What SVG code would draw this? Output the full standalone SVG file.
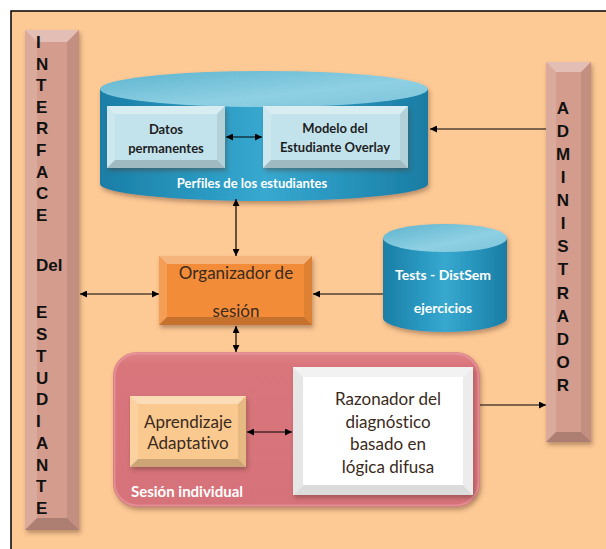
<svg xmlns="http://www.w3.org/2000/svg" width="606" height="549" viewBox="0 0 606 549">
  <style>
    text { font-variant-ligatures: none; }
    .vt { font-family: "Liberation Sans", Arial, sans-serif; font-weight: bold; font-size: 17px; fill: #111; }
    .lb { font-family: Lato, "Open Sans", sans-serif; font-weight: bold; font-size: 13px; fill: #1e1e1e; text-anchor: middle; }
    .wl { font-family: Lato, "Open Sans", sans-serif; font-weight: bold; fill: #ffffff; }
    .rg { font-family: Lato, "Open Sans", sans-serif; font-size: 17px; fill: #3a2a20; text-anchor: middle; }
    .bt { fill: #ffffff; fill-opacity: 0.35; }
    .bl { fill: #ffffff; fill-opacity: 0.15; }
    .br { fill: #000000; fill-opacity: 0.08; }
    .bb { fill: #000000; fill-opacity: 0.18; }
    .con line { stroke: #000; stroke-width: 1.2; }
  </style>
  <defs>
    <filter id="shadow" x="-10%" y="-10%" width="125%" height="130%">
      <feDropShadow dx="1.5" dy="3" stdDeviation="2" flood-color="#5a3a20" flood-opacity="0.4"/>
    </filter>
    <linearGradient id="cylBody" x1="0" y1="0" x2="1" y2="0">
      <stop offset="0" stop-color="#1a7ea6"/>
      <stop offset="0.35" stop-color="#2c9cc4"/>
      <stop offset="0.5" stop-color="#38a8cf"/>
      <stop offset="0.7" stop-color="#2a98c0"/>
      <stop offset="1" stop-color="#1a7ca3"/>
    </linearGradient>
    <linearGradient id="cylTop" x1="0" y1="0" x2="1" y2="1">
      <stop offset="0" stop-color="#5cb4cf"/>
      <stop offset="0.6" stop-color="#8fd0e3"/>
      <stop offset="1" stop-color="#7cc3d9"/>
    </linearGradient>
    <linearGradient id="session" x1="0" y1="0" x2="0" y2="1">
      <stop offset="0" stop-color="#df858a"/>
      <stop offset="0.08" stop-color="#d9767b"/>
      <stop offset="1" stop-color="#d6727a"/>
    </linearGradient>
    <marker id="ah" viewBox="0 0 10 10" refX="10" refY="5" markerWidth="7" markerHeight="7" markerUnits="userSpaceOnUse" orient="auto-start-reverse">
      <path d="M0,0 L10,5 L0,10 z" fill="#000"/>
    </marker>
  </defs>

  <!-- page background and frame -->
  <rect x="0" y="0" width="606" height="549" fill="#ffffff"/>
  <rect x="11" y="11" width="620" height="560" fill="#fdc995" stroke="#000" stroke-width="1.5"/>

  <!-- left vertical bar: student interface -->
  <g id="interfaz">
    <g filter="url(#shadow)">
      <rect x="25" y="30" width="54" height="500" fill="#d49c8c"/>
      <polygon class="bt" points="25,30 79,30 67,42 37,42"/>
      <polygon class="bl" points="25,30 37,42 37,518 25,530"/>
      <polygon class="br" points="79,30 79,530 67,518 67,42"/>
      <polygon class="bb" points="25,530 37,518 67,518 79,530"/>
    </g>
    <text class="vt" x="36" y="48">I</text>
    <text class="vt" x="36" y="70">N</text>
    <text class="vt" x="36" y="91">T</text>
    <text class="vt" x="36" y="113">E</text>
    <text class="vt" x="36" y="134">R</text>
    <text class="vt" x="36" y="156">F</text>
    <text class="vt" x="36" y="178">A</text>
    <text class="vt" x="36" y="199">C</text>
    <text class="vt" x="36" y="221">E</text>
    <text class="vt" x="36" y="271">Del</text>
    <text class="vt" x="36" y="318">E</text>
    <text class="vt" x="36" y="340">S</text>
    <text class="vt" x="36" y="362">T</text>
    <text class="vt" x="36" y="384">U</text>
    <text class="vt" x="36" y="405">D</text>
    <text class="vt" x="36" y="427">I</text>
    <text class="vt" x="36" y="449">A</text>
    <text class="vt" x="36" y="471">N</text>
    <text class="vt" x="36" y="492">T</text>
    <text class="vt" x="36" y="514">E</text>
  </g>

  <!-- right vertical bar: administrator -->
  <g id="administrador">
    <g filter="url(#shadow)">
      <rect x="546" y="62" width="45" height="380" fill="#d49c8c"/>
      <polygon class="bt" points="546,62 591,62 581,72 556,72"/>
      <polygon class="bl" points="546,62 556,72 556,432 546,442"/>
      <polygon class="br" points="591,62 591,442 581,432 581,72"/>
      <polygon class="bb" points="546,442 556,432 581,432 591,442"/>
    </g>
    <g text-anchor="middle">
      <text class="vt" x="563" y="114">A</text>
      <text class="vt" x="563" y="137">D</text>
      <text class="vt" x="563" y="160">M</text>
      <text class="vt" x="563" y="183">I</text>
      <text class="vt" x="563" y="206">N</text>
      <text class="vt" x="563" y="229">I</text>
      <text class="vt" x="563" y="252">S</text>
      <text class="vt" x="563" y="275">T</text>
      <text class="vt" x="563" y="299">R</text>
      <text class="vt" x="563" y="322">A</text>
      <text class="vt" x="563" y="345">D</text>
      <text class="vt" x="563" y="368">O</text>
      <text class="vt" x="563" y="391">R</text>
    </g>
  </g>

  <!-- student profiles store -->
  <g id="perfiles">
    <g filter="url(#shadow)">
      <path d="M100,89 L100,184 A164,17 0 0 0 428,184 L428,89 Z" fill="url(#cylBody)"/>
      <ellipse cx="264" cy="89" rx="164" ry="18" fill="url(#cylTop)"/>
    </g>
    <text class="wl" x="252" y="188" font-size="13" text-anchor="middle">Perfiles de los estudiantes</text>
  </g>

  <g id="datos">
    <g filter="url(#shadow)">
      <rect x="107" y="106" width="118" height="62" fill="#c3e3ec"/>
      <polygon class="bt" points="107,106 225,106 217,114 115,114"/>
      <polygon class="bl" points="107,106 115,114 115,160 107,168"/>
      <polygon class="br" points="225,106 225,168 217,160 217,114"/>
      <polygon class="bb" points="107,168 115,160 217,160 225,168"/>
    </g>
    <text class="lb" x="166" y="134">Datos</text>
    <text class="lb" x="166" y="153">permanentes</text>
  </g>

  <g id="modelo">
    <g filter="url(#shadow)">
      <rect x="263" y="106" width="145" height="62" fill="#c3e3ec"/>
      <polygon class="bt" points="263,106 408,106 400,114 271,114"/>
      <polygon class="bl" points="263,106 271,114 271,160 263,168"/>
      <polygon class="br" points="408,106 408,168 400,160 400,114"/>
      <polygon class="bb" points="263,168 271,160 400,160 408,168"/>
    </g>
    <text class="lb" x="335" y="133">Modelo del</text>
    <text class="lb" x="335" y="152">Estudiante Overlay</text>
  </g>

  <!-- session organizer -->
  <g id="organizador">
    <g filter="url(#shadow)">
      <rect x="159" y="256" width="153" height="69" fill="#f28c38"/>
      <polygon class="bt" points="159,256 312,256 304,264 167,264"/>
      <polygon class="bl" points="159,256 167,264 167,317 159,325"/>
      <polygon class="br" points="312,256 312,325 304,317 304,264"/>
      <polygon class="bb" points="159,325 167,317 304,317 312,325"/>
    </g>
    <text class="rg" x="236" y="279" font-size="18">Organizador de</text>
    <text class="rg" x="236" y="317" font-size="18">sesión</text>
  </g>

  <!-- exercises store -->
  <g id="tests">
    <g filter="url(#shadow)">
      <path d="M383,238 L383,318 A62,14 0 0 0 507,318 L507,238 Z" fill="url(#cylBody)"/>
      <ellipse cx="445" cy="238" rx="62" ry="14" fill="url(#cylTop)"/>
    </g>
    <text class="wl" x="443" y="280" font-size="14" text-anchor="middle">Tests - DistSem</text>
    <text class="wl" x="443" y="313" font-size="14" text-anchor="middle">ejercicios</text>
  </g>

  <!-- individual session -->
  <g id="sesion">
    <rect x="113" y="352" width="367" height="155" rx="24" fill="url(#session)" filter="url(#shadow)"/>
    <rect x="114.5" y="353.5" width="364" height="152" rx="23" fill="none" stroke="#e9a0a4" stroke-width="2" stroke-opacity="0.6"/>
    <text class="wl" x="131" y="497" font-size="15">Sesión individual</text>
  </g>

  <g id="aprendizaje">
    <g filter="url(#shadow)">
      <rect x="130" y="396" width="116" height="71" fill="#fac98f"/>
      <polygon class="bt" points="130,396 246,396 238,404 138,404"/>
      <polygon class="bl" points="130,396 138,404 138,459 130,467"/>
      <polygon class="br" points="246,396 246,467 238,459 238,404"/>
      <polygon class="bb" points="130,467 138,459 238,459 246,467"/>
    </g>
    <text class="rg" x="188" y="428">Aprendizaje</text>
    <text class="rg" x="188" y="449">Adaptativo</text>
  </g>

  <g id="razonador">
    <g filter="url(#shadow)">
      <rect x="293" y="367" width="180" height="128" fill="#ffffff"/>
      <polygon fill="#f2f2f2" points="293,367 473,367 463,377 303,377"/>
      <polygon fill="#e6e6e6" points="293,367 303,377 303,485 293,495"/>
      <polygon fill="#ececec" points="473,367 473,495 463,485 463,377"/>
      <polygon fill="#dcdcdc" points="293,495 303,485 463,485 473,495"/>
    </g>
    <text class="rg" x="388" y="405">Razonador  del</text>
    <text class="rg" x="388" y="428">diagnóstico</text>
    <text class="rg" x="388" y="450">basado en</text>
    <text class="rg" x="388" y="473">lógica difusa</text>
  </g>

  <!-- connectors -->
  <g id="connectors" class="con">
    <line x1="546" y1="129" x2="430" y2="129" marker-end="url(#ah)"/>
    <line x1="226" y1="137" x2="262" y2="137" marker-start="url(#ah)" marker-end="url(#ah)"/>
    <line x1="236" y1="199" x2="236" y2="256" marker-start="url(#ah)" marker-end="url(#ah)"/>
    <line x1="80" y1="294" x2="159" y2="294" marker-start="url(#ah)" marker-end="url(#ah)"/>
    <line x1="383" y1="294" x2="313" y2="294" marker-end="url(#ah)"/>
    <line x1="236" y1="326" x2="236" y2="352" marker-start="url(#ah)" marker-end="url(#ah)"/>
    <line x1="247" y1="432" x2="292" y2="432" marker-start="url(#ah)" marker-end="url(#ah)"/>
    <line x1="480" y1="405" x2="546" y2="405" marker-end="url(#ah)"/>
  </g>
</svg>
